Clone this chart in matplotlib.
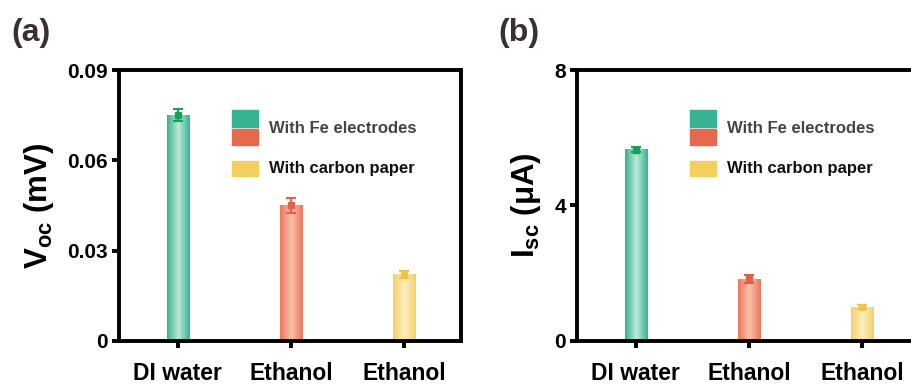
import numpy as np
import matplotlib
matplotlib.use('Agg')
import matplotlib.pyplot as plt
from matplotlib.colors import LinearSegmentedColormap
from matplotlib.patches import Rectangle

plt.rcParams['font.family'] = ['Liberation Sans', 'DejaVu Sans']
plt.rcParams['mathtext.fontset'] = 'custom'
plt.rcParams['mathtext.rm'] = 'Liberation Sans:bold'
plt.rcParams['mathtext.it'] = 'Liberation Sans:bold'
plt.rcParams['mathtext.bf'] = 'Liberation Sans:bold'

# data
categories = ['DI water', 'Ethanol', 'Ethanol']
voc = [0.075, 0.045, 0.022]
voc_err = [0.0020, 0.0025, 0.0012]
isc = [5.65, 1.82, 1.0]
isc_err = [0.08, 0.12, 0.07]
legend_labels = ['With Fe electrodes', 'With carbon paper']

# edge colour, centre colour, error bar colour
bar_cols = [('#35b393', '#bfe8da', '#17a05a'),
            ('#ec785c', '#f8c0a8', '#e4604a'),
            ('#f4d068', '#fbeec0', '#f2c444')]

fig = plt.figure(figsize=(9.12, 3.87), dpi=100)
ax1 = fig.add_axes([0.1305, 0.119, 0.375, 0.700])
ax2 = fig.add_axes([0.6327, 0.119, 0.375, 0.700])

x = np.arange(len(categories))
w = 0.2


def draw_panel(ax, vals, errs, ymax, yticks, ylabel, ticklabels):
    for i in range(len(vals)):
        edge, centre, ecol = bar_cols[i]
        cmap = LinearSegmentedColormap.from_list('g', [edge, centre, edge])
        grad = np.linspace(0, 1, 64).reshape(1, -1)
        ax.imshow(grad, cmap=cmap, aspect='auto', zorder=2,
                  extent=[x[i] - w / 2, x[i] + w / 2, 0, vals[i]], origin='lower')
        ax.errorbar(x[i], vals[i], yerr=errs[i], fmt='s', color=ecol, ms=4,
                    capsize=3.5, elinewidth=1.5, capthick=1.5, zorder=3)
    ax.set_xlim(-0.52, 2.5)
    ax.set_ylim(0, ymax)
    ax.set_xticks(x)
    ax.set_xticklabels(categories, fontsize=16.5, fontweight='bold')
    ax.set_yticks(yticks)
    ax.set_yticklabels(ticklabels, fontsize=15, fontweight='bold')
    for s in ax.spines.values():
        s.set_linewidth(2.8)
    ax.tick_params(axis='both', direction='out', length=5, width=2.8, pad=3)
    ax.tick_params(axis='x', pad=10)
    ax.set_ylabel(ylabel, fontsize=22.5, fontweight='bold', labelpad=8)

    # custom legend
    ax.add_patch(Rectangle((0.33, 0.79), 0.075, 0.062, transform=ax.transAxes,
                           color='#35b393', clip_on=False, zorder=4))
    ax.add_patch(Rectangle((0.33, 0.722), 0.075, 0.062, transform=ax.transAxes,
                           color='#e6694e', clip_on=False, zorder=4))
    ax.add_patch(Rectangle((0.33, 0.608), 0.075, 0.058, transform=ax.transAxes,
                           color='#f5cf5e', clip_on=False, zorder=4))
    ax.text(0.438, 0.786, legend_labels[0], transform=ax.transAxes, fontsize=12,
            fontweight='bold', color='#444444', va='center')
    ax.text(0.438, 0.636, legend_labels[1], transform=ax.transAxes, fontsize=12,
            fontweight='bold', color='#111111', va='center')


draw_panel(ax1, voc, voc_err, 0.09, [0, 0.03, 0.06, 0.09],
           r'V$_{\mathregular{oc}}$ (mV)', ['0', '0.03', '0.06', '0.09'])
draw_panel(ax2, isc, isc_err, 8, [0, 4, 8],
           r'I$_{\mathregular{sc}}$ (μA)', ['0', '4', '8'])

fig.text(0.012, 0.895, '(a)', fontsize=23, fontweight='bold', color='#3a3030')
fig.text(0.547, 0.895, '(b)', fontsize=23, fontweight='bold', color='#3a3030')

fig.savefig('out.png', dpi=100)
